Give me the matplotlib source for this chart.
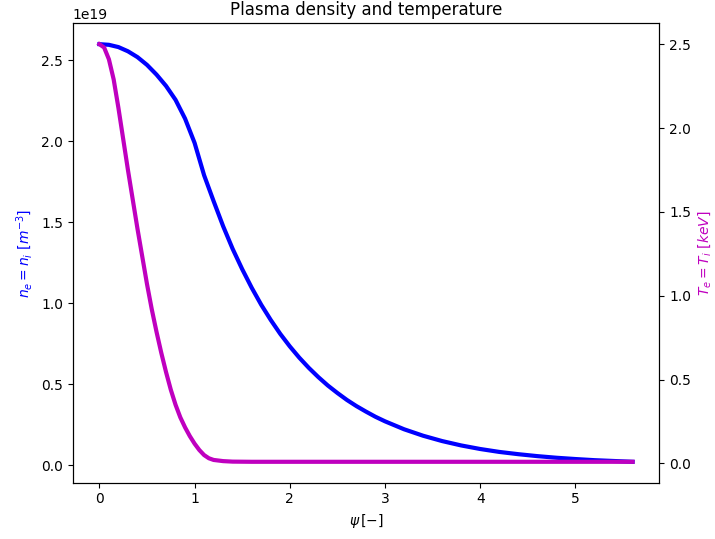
import matplotlib
matplotlib.use('Agg')
import matplotlib.pyplot as plt

# density profile (units of 1e19 m^-3)
psi_n = [0.0, 0.1, 0.2, 0.3, 0.4, 0.5, 0.6, 0.7, 0.8, 0.9, 1.0,
         1.1, 1.2, 1.3, 1.4, 1.5, 1.6, 1.7, 1.8, 1.9, 2.0,
         2.1, 2.2, 2.3, 2.4, 2.5, 2.6, 2.7, 2.8, 2.9, 3.0,
         3.2, 3.4, 3.6, 3.8, 4.0, 4.2, 4.4, 4.6, 4.8, 5.0, 5.2, 5.4, 5.6]
dens = [2.600, 2.596, 2.582, 2.556, 2.520, 2.472, 2.412, 2.342, 2.256, 2.140, 1.990,
        1.790, 1.630, 1.475, 1.335, 1.210, 1.095, 0.990, 0.896, 0.810, 0.733,
        0.663, 0.600, 0.543, 0.491, 0.445, 0.402, 0.364, 0.330, 0.298, 0.270,
        0.221, 0.181, 0.148, 0.121, 0.099, 0.081, 0.067, 0.055, 0.045, 0.037,
        0.030, 0.025, 0.020]

# temperature profile [keV]
psi_t = [0.0, 0.05, 0.1, 0.15, 0.2, 0.25, 0.3, 0.35, 0.4, 0.45, 0.5,
         0.55, 0.6, 0.65, 0.7, 0.75, 0.8, 0.85, 0.9, 0.95, 1.0,
         1.05, 1.1, 1.15, 1.2, 1.3, 1.4, 1.6, 2.0, 3.0, 4.0, 5.0, 5.6]
temp = [2.50, 2.48, 2.41, 2.29, 2.12, 1.935, 1.75, 1.575, 1.40, 1.235, 1.07,
        0.92, 0.785, 0.66, 0.545, 0.44, 0.35, 0.275, 0.215, 0.163, 0.118,
        0.08, 0.05, 0.031, 0.021, 0.014, 0.011, 0.01, 0.01, 0.01, 0.01, 0.01, 0.01]

fig, ax1 = plt.subplots(figsize=(7.15, 5.39), dpi=100)
fig.subplots_adjust(left=0.1017, right=0.922, bottom=0.1045, top=0.9568)

ax1.plot(psi_n, [d * 1e19 for d in dens], color='b', linewidth=3)
ax1.set_xlabel(r'$\psi\,[-]$')
ax1.set_ylabel(r'$n_e = n_i\ [m^{-3}]$', color='b')

ax2 = ax1.twinx()
ax2.plot(psi_t, temp, color='m', linewidth=3)
ax2.set_ylabel(r'$T_e = T_i\ [keV]$', color='m')

ax1.set_title('Plasma density and temperature')

fig.savefig('out.png')
